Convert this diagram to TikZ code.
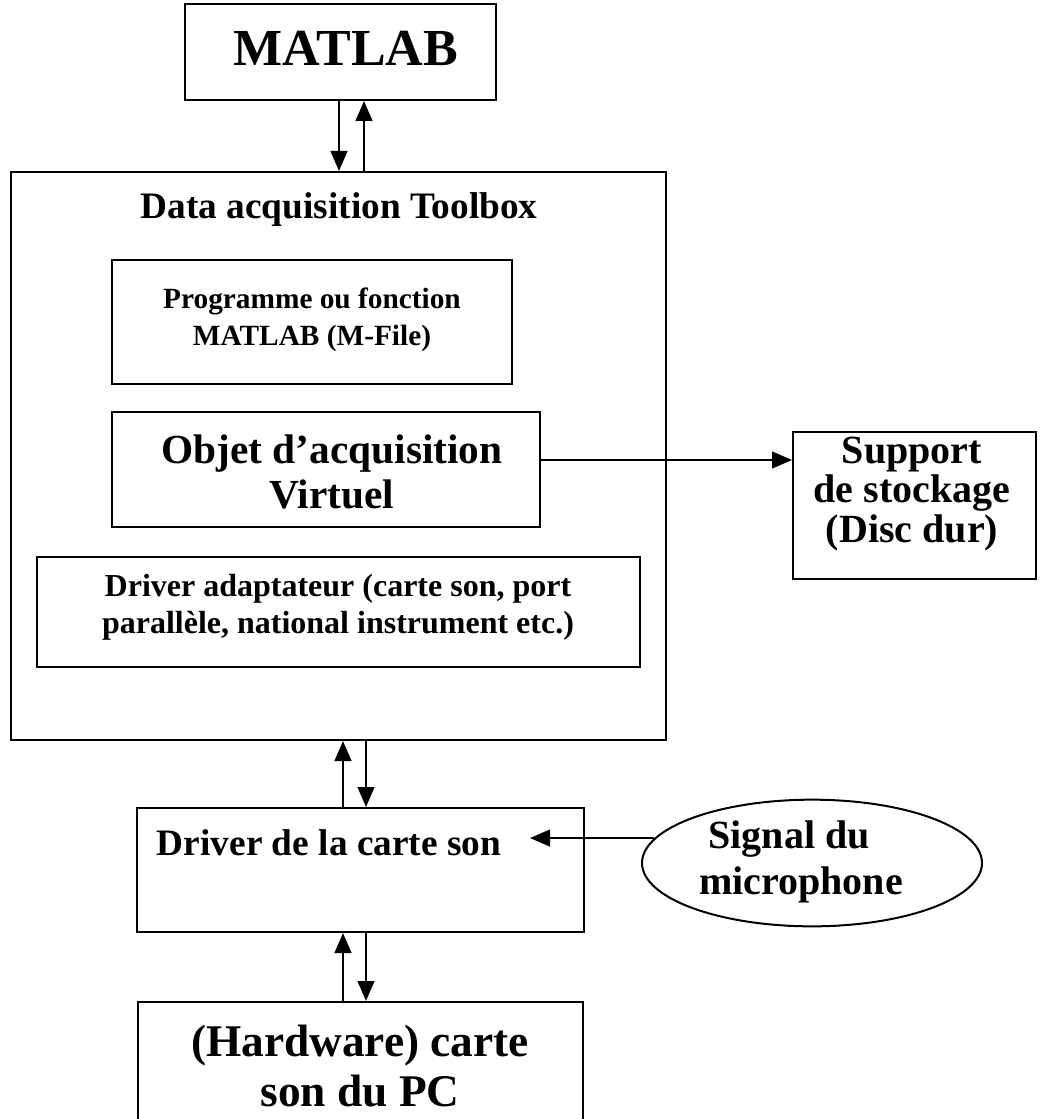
\documentclass[tikz,border=0pt]{standalone}
\usepackage{fontspec}
\setmainfont{Liberation Serif}
\usetikzlibrary{fit,shapes.geometric,arrows.meta}
\newcommand{\fs}[2]{\fontsize{#1}{#2}\selectfont\bfseries}
\tikzset{
  box/.style={draw, line width=1.5pt, inner sep=0pt, fit={#1}},
  txt/.style={inner sep=0pt, align=center},
  arr/.style={line width=1.7pt, -{Triangle[length=15pt,width=12.5pt]}}
}
\begin{document}
\begin{tikzpicture}[x=0.75pt,y=-0.75pt]
\useasboundingbox (0,0) rectangle (1049,1119);
\fill[white] (0,0) rectangle (1049,1119);
\clip (0,0) rectangle (1049,1119);
% boxes
\node[box={(185,4) (496,100)}] (matlab) {};
\node[box={(11,172) (666,740)}] (tool) {};
\node[box={(112,260) (512,384)}] (prog) {};
\node[box={(112,412) (540,527)}] (obj) {};
\node[box={(37,557) (640,667)}] (adapt) {};
\node[box={(793,432) (1036,579)}] (supp) {};
\node[box={(137,808) (584,932)}] (drv) {};
\node[box={(138,1002) (583,1130)}] (hw) {};
\node[draw, line width=1.5pt, ellipse, inner sep=0pt, minimum width=255pt, minimum height=95pt] (mic) at (812,863) {};
% texts
\node[txt, font=\fs{39}{44}] (tmatlab) at (346,48) {MATLAB};
\node[txt, font=\fs{28}{32}] (ttool) at (339,210) {Data acquisition Toolbox};
\node[txt, font=\fs{22}{28}] (tprog) at (312,320) {Programme ou fonction\\MATLAB (M-File)};
\node[txt, font=\fs{31}{34}] (tobj) at (332,472) {Objet d’acquisition\\Virtuel};
\node[txt, font=\fs{24}{28}] (tadapt) at (338,607) {Driver adaptateur (carte son, port\\parallèle, national instrument etc.)};
\node[txt, font=\fs{30}{29.5}] (tsupp) at (912,494) {Support\\de stockage\\(Disc dur)};
\node[txt, font=\fs{28}{32}] (tdrv) at (329,843) {Driver de la carte son};
\node[txt, font=\fs{34}{37.5}] (thw) at (360,1066) {(Hardware) carte\\son du PC};
\node[txt, font=\fs{30}{34}, align=left] (tmic) at (801,862) {\hspace*{7pt}Signal du\\microphone};
% connectors
\coordinate (c1) at (339,0);
\coordinate (c2) at (364,0);
\coordinate (c3) at (343,0);
\coordinate (c4) at (366,0);
\coordinate (micend) at (530,838);
\draw[arr] (c1 |- matlab.south) -- (c1 |- tool.north);
\draw[arr] (c2 |- tool.north) -- (c2 |- matlab.south);
\draw[arr] (obj.east |- 0,460) -- (supp.west |- 0,460);
\draw[arr] (c3 |- drv.north) -- (c3 |- tool.south);
\draw[arr] (c4 |- tool.south) -- (c4 |- drv.north);
\draw[arr] (c3 |- hw.north) -- (c3 |- drv.south);
\draw[arr] (c4 |- drv.south) -- (c4 |- hw.north);
\draw[arr] (mic.171) -- (micend |- mic.171);
\end{tikzpicture}
\end{document}
